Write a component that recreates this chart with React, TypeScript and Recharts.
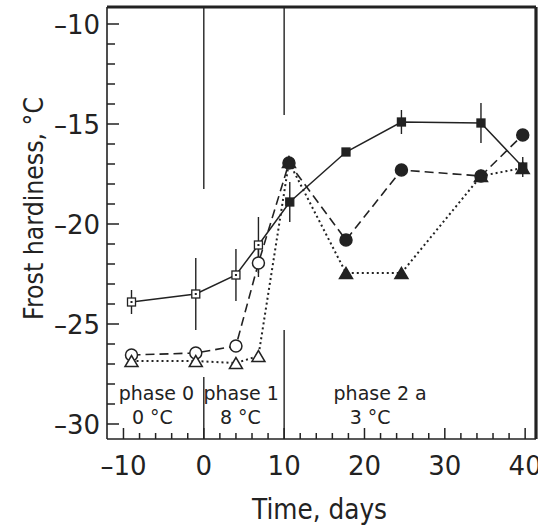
import React from 'react';
import { ComposedChart, Line, XAxis, YAxis, ErrorBar, ReferenceLine, ReferenceDot } from 'recharts';

const INK = '#222222';
const FONT = '"DejaVu Sans", sans-serif';

// sampling days (days relative to start of phase 1)
const squareDays = [-9, -1, 4, 6.8, 10.7, 17.7, 24.6, 34.5, 39.7];
const otherDays = [-9, -1, 4, 6.8, 10.6, 17.7, 24.6, 34.5, 39.7];

// frost hardiness, °C
const squareValues = [-23.9, -23.5, -22.55, -21.05, -18.9, -16.4, -14.9, -14.95, -17.15];
const squareErrors = [0.6, 1.8, 1.3, 1.4, 1.0, 0, 0.6, 1.0, 0.5];
const circleValues = [-26.55, -26.45, -26.1, -21.95, -16.95, -20.8, -17.3, -17.6, -15.55];
const circleErrors = [0, 0, 0, 0.7, 0, 0, 0, 0, 0];
const triangleValues = [-26.85, -26.85, -26.95, -26.6, -16.9, -22.45, -22.45, -17.6, -17.2];
const filledFlags = [false, false, false, false, true, true, true, true, true];

const xTicks = [-10, -8, -6, -4, -2, 0, 2, 4, 6, 8, 10, 12, 14, 16, 18, 20, 22, 24, 26, 28, 30, 32, 34, 36, 38, 40];
const yTicks = [-30, -29, -28, -27, -26, -25, -24, -23, -22, -21, -20, -19, -18, -17, -16, -15, -14, -13, -12, -11, -10];
const xDomain = [-12.05, 41.35];
const yDomain = [-30.75, -9.15];

// phase boundaries (day) and the gap in each boundary line (°C)
const phaseBoundaries = [0, 10];
const boundaryGapTop = [-18.25, -14.55];
const boundaryGapBottom = [-27.65, -25.3];

const phaseTexts = ['phase 0', '0 °C', 'phase 1', '8 °C', 'phase 2 a', '3 °C'];
const phaseTextDays = [-5.9, -6.4, 4.65, 4.55, 21.95, 20.7];
const phaseTextLevels = [-28.45, -29.65, -28.45, -29.65, -28.45, -29.65];

const squareData = squareDays.map((x, i) => ({ x, y: squareValues[i], err: squareErrors[i], filled: filledFlags[i] }));
const circleData = otherDays.map((x, i) => ({ x, y: circleValues[i], err: circleErrors[i], filled: filledFlags[i] }));
const triangleData = otherDays.map((x, i) => ({ x, y: triangleValues[i], filled: filledFlags[i] }));

const fmt = (v: number) => (v < 0 ? '\u2013' + Math.abs(v) : String(v));

const XTick = (props: any) => {
  const { x, y, payload } = props;
  const v = payload.value;
  const major = v % 10 === 0;
  return (
    <g>
      <line x1={x} x2={x} y1={y} y2={y - (major ? 11 : 6)} stroke={INK} strokeWidth={1.5} />
      {major && (
        <text x={x} y={y + 36} textAnchor="middle" fontSize={26} fill={INK} fontFamily={FONT}>
          {fmt(v)}
        </text>
      )}
    </g>
  );
};

const YTick = (props: any) => {
  const { x, y, payload } = props;
  const v = payload.value;
  const major = v % 5 === 0;
  return (
    <g>
      <line x1={x} x2={x + (major ? 12 : 8)} y1={y} y2={y} stroke={INK} strokeWidth={1.5} />
      {major && (
        <text x={x - 7} y={y + 9.5} textAnchor="end" fontSize={26} fill={INK} fontFamily={FONT}>
          {fmt(v)}
        </text>
      )}
    </g>
  );
};

const YTitle = (props: any) => {
  const vb = props.viewBox || { x: 0, y: 7, width: 107, height: 432 };
  const cx = vb.x + 43;
  const cy = vb.y + 201.5;
  return (
    <text
      x={cx}
      y={cy}
      transform={`rotate(-90 ${cx} ${cy})`}
      textAnchor="middle"
      fontSize={27}
      textLength={223}
      lengthAdjust="spacingAndGlyphs"
      fill={INK}
      fontFamily={FONT}
    >
      Frost hardiness, °C
    </text>
  );
};

const XTitle = (props: any) => {
  const vb = props.viewBox || { x: 107, y: 439, width: 429, height: 87 };
  return (
    <text
      x={vb.x + 212.5}
      y={vb.y + 80}
      textAnchor="middle"
      fontSize={28}
      textLength={135}
      lengthAdjust="spacingAndGlyphs"
      fill={INK}
      fontFamily={FONT}
    >
      Time, days
    </text>
  );
};

const SquareDot = (p: any) => {
  const { cx, cy, payload } = p;
  if (cx == null || cy == null) return <g />;
  const s = 8;
  return (
    <g>
      <rect x={cx - s / 2} y={cy - s / 2} width={s} height={s} fill={payload.filled ? INK : '#fff'} stroke={INK} strokeWidth={1.3} />
      {!payload.filled && <rect x={cx - 1} y={cy - 1} width={2} height={2} fill={INK} />}
    </g>
  );
};

const CircleDot = (p: any) => {
  const { cx, cy, payload } = p;
  if (cx == null || cy == null) return <g />;
  return <circle cx={cx} cy={cy} r={6} fill={payload.filled ? INK : '#fff'} stroke={INK} strokeWidth={1.5} />;
};

const TriangleDot = (p: any) => {
  const { cx, cy, payload } = p;
  if (cx == null || cy == null) return <g />;
  const w = 13;
  const h = 11;
  const pts = `${cx - w / 2},${cy + h / 2} ${cx + w / 2},${cy + h / 2} ${cx},${cy - h / 2}`;
  return <polygon points={pts} fill={payload.filled ? INK : '#fff'} stroke={INK} strokeWidth={1.5} strokeLinejoin="miter" />;
};

export default function App() {
  return (
    <div style={{ position: 'absolute', left: 0, top: 0, width: 538, height: 526, background: '#fff' }}>
      <ComposedChart width={538} height={526} margin={{ top: 7, right: 2, bottom: 0, left: 0 }}>
        <XAxis
          dataKey="x"
          type="number"
          domain={xDomain}
          allowDataOverflow
          ticks={xTicks}
          interval={0}
          tick={<XTick />}
          tickLine={false}
          tickSize={0}
          tickMargin={0}
          height={87}
          axisLine={{ stroke: INK, strokeWidth: 1.6 }}
          label={<XTitle />}
        />
        <YAxis
          type="number"
          domain={yDomain}
          allowDataOverflow
          ticks={yTicks}
          interval={0}
          tick={<YTick />}
          tickLine={false}
          tickSize={0}
          tickMargin={0}
          width={107}
          axisLine={{ stroke: INK, strokeWidth: 1.6 }}
          label={<YTitle />}
        />
        <ReferenceLine y={yDomain[1]} stroke={INK} strokeWidth={3.2} ifOverflow="visible" />
        <ReferenceLine x={xDomain[1]} stroke={INK} strokeWidth={3.2} ifOverflow="visible" />
        {phaseBoundaries.map((b, i) => (
          <ReferenceLine
            key={`bt${i}`}
            segment={[{ x: b, y: yDomain[1] }, { x: b, y: boundaryGapTop[i] }]}
            stroke={INK}
            strokeWidth={1.4}
            ifOverflow="visible"
          />
        ))}
        {phaseBoundaries.map((b, i) => (
          <ReferenceLine
            key={`bb${i}`}
            segment={[{ x: b, y: boundaryGapBottom[i] }, { x: b, y: yDomain[0] }]}
            stroke={INK}
            strokeWidth={1.4}
            ifOverflow="visible"
          />
        ))}
        {phaseTexts.map((t, i) => (
          <ReferenceDot
            key={`pt${i}`}
            x={phaseTextDays[i]}
            y={phaseTextLevels[i]}
            r={0}
            fill="none"
            stroke="none"
            ifOverflow="visible"
            label={{ value: t, position: 'center', fontSize: 19, fill: INK, fontFamily: FONT }}
          />
        ))}
        <Line
          data={squareData}
          dataKey="y"
          type="linear"
          stroke={INK}
          strokeWidth={1.5}
          dot={(p: any) => <SquareDot key={`s${p.index}`} {...p} />}
          activeDot={false}
          isAnimationActive={false}
        >
          <ErrorBar dataKey="err" width={0} stroke={INK} strokeWidth={1.4} direction="y" />
        </Line>
        <Line
          data={circleData}
          dataKey="y"
          type="linear"
          stroke={INK}
          strokeWidth={1.6}
          strokeDasharray="9 5"
          dot={(p: any) => <CircleDot key={`c${p.index}`} {...p} />}
          activeDot={false}
          isAnimationActive={false}
        >
          <ErrorBar dataKey="err" width={0} stroke={INK} strokeWidth={1.4} direction="y" />
        </Line>
        <Line
          data={triangleData}
          dataKey="y"
          type="linear"
          stroke={INK}
          strokeWidth={2}
          strokeDasharray="2 3"
          dot={(p: any) => <TriangleDot key={`t${p.index}`} {...p} />}
          activeDot={false}
          isAnimationActive={false}
        />
      </ComposedChart>
    </div>
  );
}
